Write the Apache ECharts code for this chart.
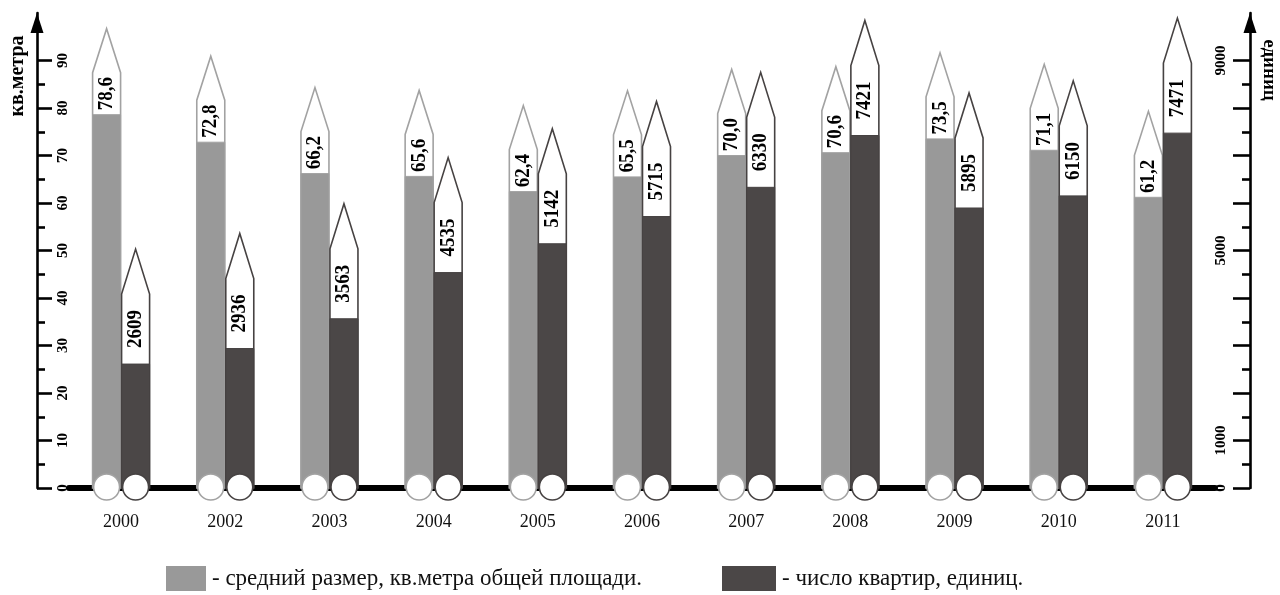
<!DOCTYPE html>
<html>
<head>
<meta charset="utf-8">
<script src="https://cdn.jsdelivr.net/npm/echarts@6/dist/echarts.min.js"></script>
<style>
  html, body { margin: 0; padding: 0; background: #fff; }
  #chart { width: 1280px; height: 595px; }
</style>
</head>
<body>
<div id="chart"></div>
<script>
// Years shown on the horizontal axis
const years = ['2000', '2002', '2003', '2004', '2005', '2006', '2007', '2008', '2009', '2010', '2011'];
// Average flat size, square metres of total floor area (left axis)
const avgArea = [78.6, 72.8, 66.2, 65.6, 62.4, 65.5, 70.0, 70.6, 73.5, 71.1, 61.2];
// Number of flats, units (right axis)
const flats = [2609, 2936, 3563, 4535, 5142, 5715, 6330, 7421, 5895, 6150, 7471];

// Tick values and labels for both vertical scales
const leftMajorTicks = [0, 10, 20, 30, 40, 50, 60, 70, 80, 90];
const leftMinorTicks = [5, 15, 25, 35, 45, 55, 65, 75, 85];
const leftLabels = [0, 10, 20, 30, 40, 50, 60, 70, 80, 90];
const rightMajorTicks = [0, 1000, 2000, 3000, 4000, 5000, 6000, 7000, 8000, 9000];
const rightMinorTicks = [500, 1500, 2500, 3500, 4500, 5500, 6500, 7500, 8500];
const rightLabels = [0, 1000, 5000, 9000];

const areaName = 'кв.метра';
const flatsName = 'единиц';
const legendArea = '- средний размер, кв.метра общей площади.';
const legendFlats = '- число квартир, единиц.';

const SERIF = '"Liberation Serif", "DejaVu Serif", serif';
const LIGHT = '#999999';
const LIGHT_EDGE = '#a2a2a2';
const DARK = '#4b4747';
const DARK_EDGE = '#464242';
const BAR_W = 28;

const fmtArea = v => v.toFixed(1).replace('.', ',');
const fmtFlats = v => String(v);

// Each bar is drawn as a pencil: coloured shaft up to the value,
// a white sleeve carrying the value, a sharpened tip and a round end.
function pencil(side, fill, edge, sleeveH, tipH, fmt) {
  return function (params, api) {
    const i = api.value(0);
    const v = api.value(1);
    const top = api.coord([i, v]);
    const base = api.coord([i, 0]);
    const x0 = side < 0 ? top[0] - 0.5 - BAR_W : top[0] + 0.5;
    const x1 = x0 + BAR_W;
    const xc = x0 + BAR_W / 2;
    const yv = top[1];
    const yb = base[1];
    const ys = yv - sleeveH;
    const ya = ys - tipH;
    return {
      type: 'group',
      children: [
        {
          type: 'polygon',
          shape: { points: [[x0, yb], [x0, ys], [xc, ya], [x1, ys], [x1, yb]] },
          style: { fill: '#fff', stroke: edge, lineWidth: 1.6 }
        },
        {
          type: 'rect',
          shape: { x: x0, y: yv, width: BAR_W, height: yb - yv },
          style: { fill: fill, stroke: edge, lineWidth: 1 }
        },
        {
          type: 'text',
          x: xc,
          y: yv - sleeveH / 2,
          rotation: Math.PI / 2,
          scaleY: 1.12,
          style: {
            text: fmt(v),
            font: 'bold 19px ' + SERIF,
            fill: '#000',
            align: 'center',
            verticalAlign: 'middle'
          }
        },
        {
          type: 'circle',
          shape: { cx: xc, cy: yb - 1, r: 13 },
          style: { fill: '#fff', stroke: edge, lineWidth: 1.6 }
        }
      ]
    };
  };
}

const chart = echarts.init(document.getElementById('chart'), null, { renderer: 'canvas' });

const axisLineStyle = { color: '#000', width: 2.6 };
const tickFont = { color: '#000', fontFamily: SERIF, fontWeight: 'bold', fontSize: 15 };

chart.setOption({
  animation: false,
  backgroundColor: '#fff',
  grid: { left: 69, right: 65, top: 13, bottom: 107, containLabel: false },
  xAxis: {
    type: 'category',
    data: years,
    boundaryGap: true,
    axisLine: { show: true, lineStyle: { color: '#000', width: 6 } },
    axisTick: { show: false },
    axisLabel: { margin: 25, color: '#111', fontFamily: SERIF, fontSize: 18 },
    splitLine: { show: false }
  },
  yAxis: [
    {
      type: 'value', position: 'left', offset: 32, min: 0, max: 100,
      axisLine: {
        show: true, lineStyle: axisLineStyle,
        symbol: ['none', 'triangle'], symbolSize: [13, 20], symbolOffset: [0, -10]
      },
      axisTick: { show: true, inside: true, length: 15, customValues: leftMajorTicks, lineStyle: axisLineStyle },
      axisLabel: Object.assign({
        show: true, inside: true, rotate: 90, margin: 19, customValues: leftLabels,
        formatter: v => String(v)
      }, tickFont),
      splitLine: { show: false }
    },
    {
      type: 'value', position: 'left', offset: 32, min: 0, max: 100,
      axisLine: { show: false },
      axisTick: { show: true, inside: true, length: 8, customValues: leftMinorTicks, lineStyle: axisLineStyle },
      axisLabel: { show: false },
      splitLine: { show: false }
    },
    {
      type: 'value', position: 'right', offset: 35, min: 0, max: 10000,
      axisLine: {
        show: true, lineStyle: axisLineStyle,
        symbol: ['none', 'triangle'], symbolSize: [13, 20], symbolOffset: [0, -10]
      },
      axisTick: { show: true, inside: true, length: 17, customValues: rightMajorTicks, lineStyle: axisLineStyle },
      axisLabel: Object.assign({
        show: true, inside: true, rotate: 90, margin: 21, customValues: rightLabels,
        formatter: v => String(v)
      }, tickFont),
      splitLine: { show: false }
    },
    {
      type: 'value', position: 'right', offset: 35, min: 0, max: 10000,
      axisLine: { show: false },
      axisTick: { show: true, inside: true, length: 8, customValues: rightMinorTicks, lineStyle: axisLineStyle },
      axisLabel: { show: false },
      splitLine: { show: false }
    }
  ],
  series: [
    {
      name: legendArea,
      type: 'custom',
      yAxisIndex: 0,
      renderItem: pencil(-1, LIGHT, LIGHT_EDGE, 42, 44, fmtArea),
      data: avgArea.map((v, i) => [i, v]),
      encode: { x: 0, y: 1 },
      z: 3
    },
    {
      name: legendFlats,
      type: 'custom',
      yAxisIndex: 2,
      renderItem: pencil(1, DARK, DARK_EDGE, 70, 45, fmtFlats),
      data: flats.map((v, i) => [i, v]),
      encode: { x: 0, y: 1 },
      z: 3
    }
  ],
  graphic: [
    {
      type: 'text', x: 18, y: 76, rotation: Math.PI / 2,
      style: { text: areaName, font: 'bold 20px ' + SERIF, fill: '#000', align: 'center', verticalAlign: 'middle' }
    },
    {
      type: 'text', x: 1269, y: 70, rotation: -Math.PI / 2,
      style: { text: flatsName, font: 'bold 19px ' + SERIF, fill: '#000', align: 'center', verticalAlign: 'middle' }
    },
    { type: 'rect', shape: { x: 166, y: 566, width: 40, height: 25 }, style: { fill: LIGHT } },
    {
      type: 'text', x: 212, y: 579,
      style: { text: legendArea, font: '23px ' + SERIF, fill: '#111', align: 'left', verticalAlign: 'middle' }
    },
    { type: 'rect', shape: { x: 722, y: 566, width: 54, height: 25 }, style: { fill: DARK } },
    {
      type: 'text', x: 782, y: 579,
      style: { text: legendFlats, font: '23px ' + SERIF, fill: '#111', align: 'left', verticalAlign: 'middle' }
    }
  ]
});
</script>
</body>
</html>
